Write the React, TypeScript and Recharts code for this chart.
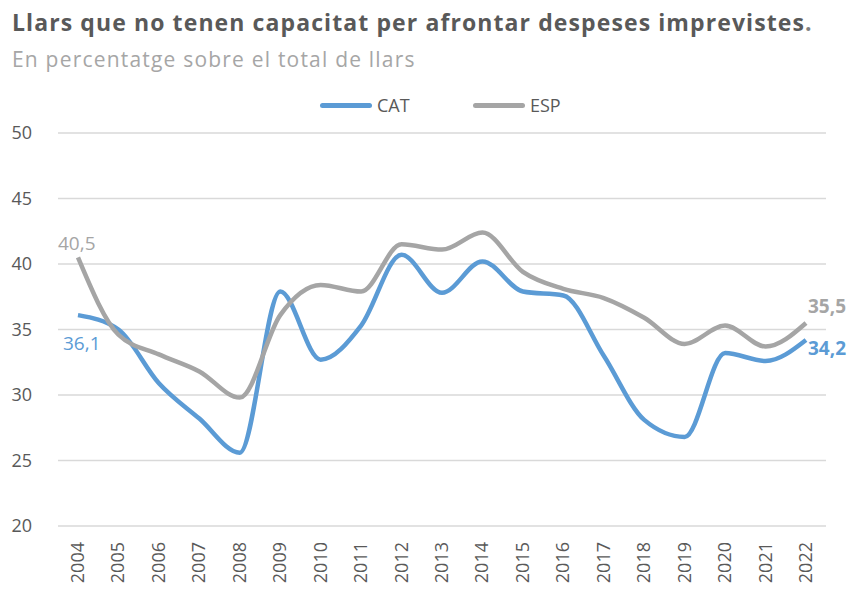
import { LineChart, Line, XAxis, YAxis, CartesianGrid, Legend, LabelList } from 'recharts';

const YEARS = ['2004', '2005', '2006', '2007', '2008', '2009', '2010', '2011', '2012', '2013', '2014', '2015', '2016', '2017', '2018', '2019', '2020', '2021', '2022'];
const CAT = [36.1, 35.0, 30.9, 28.2, 25.6, 37.9, 32.7, 35.3, 40.7, 37.8, 40.2, 37.9, 37.6, 33.0, 28.1, 26.8, 33.2, 32.6, 34.2];
const ESP = [40.5, 34.6, 33.1, 31.8, 29.8, 36.1, 38.4, 37.9, 41.5, 41.1, 42.4, 39.4, 38.1, 37.4, 35.9, 33.9, 35.3, 33.7, 35.5];
const Y_TICKS = [20, 25, 30, 35, 40, 45, 50];

const data = YEARS.map((y, i) => ({ year: y, CAT: CAT[i], ESP: ESP[i] }));

const FONT = '"Open Sans", sans-serif';
const BLUE = '#5b9bd5';
const GREY = '#a5a5a5';
const TXT = '#595959';

const fmt = (v: number) => v.toFixed(1).replace('.', ',');

// only first and last points get a value label
const endLabel = (color: string, firstDx: number, firstDy: number, lastDy: number) => (props: any) => {
  const { x, y, value, index } = props;
  if (index === 0) {
    return (
      <text x={x + firstDx} y={y + firstDy} fill={color} fontSize={19} fontFamily={FONT}>
        {fmt(value)}
      </text>
    );
  }
  if (index === YEARS.length - 1) {
    return (
      <text x={x + 2} y={y + lastDy} fill={color} fontSize={19} fontWeight="bold" fontFamily={FONT}>
        {fmt(value)}
      </text>
    );
  }
  return null;
};

// vertical year labels, reading bottom to top
const YearTick = (props: any) => {
  const { x, y, payload } = props;
  return (
    <text
      transform={`translate(${x - 1},${y + 8}) rotate(-90)`}
      textAnchor="end"
      dominantBaseline="central"
      fill={TXT}
      fontSize={18}
      fontFamily={FONT}
    >
      {payload.value}
    </text>
  );
};

const renderLegend = () => (
  <div style={{ position: 'relative', height: 33, fontFamily: FONT, fontSize: 18, color: TXT }}>
    {[
      { name: 'CAT', color: BLUE, left: 320 },
      { name: 'ESP', color: GREY, left: 473 },
    ].map((s) => (
      <div key={s.name} style={{ position: 'absolute', left: s.left, top: 0, display: 'flex', alignItems: 'center' }}>
        <div style={{ width: 52, height: 5, borderRadius: 3, background: s.color, marginRight: 5 }} />
        <span>{s.name}</span>
      </div>
    ))}
  </div>
);

export default function App() {
  return (
    <div style={{ position: 'absolute', left: 0, top: 0, width: 864, height: 593, background: '#fff', fontFamily: FONT }}>
      <div style={{ position: 'absolute', left: 12, top: 6, fontSize: 23, letterSpacing: 1.1, fontWeight: 'bold', color: TXT, whiteSpace: 'nowrap' }}>
        Llars que no tenen capacitat per afrontar despeses imprevistes<span style={{ color: '#7f7f7f' }}>.</span>
      </div>
      <div style={{ position: 'absolute', left: 12, top: 45, fontSize: 21, letterSpacing: 1.2, color: '#a6a6a6', whiteSpace: 'nowrap' }}>
        En percentatge sobre el total de llars
      </div>
      <div style={{ position: 'absolute', left: 0, top: 0 }}>
        <LineChart width={864} height={593} data={data} margin={{ top: 100, right: 38, bottom: 0, left: 0 }}>
          <CartesianGrid vertical={false} stroke="#d9d9d9" strokeWidth={1.3} />
          <XAxis
            dataKey="year"
            axisLine={false}
            tickLine={false}
            interval={0}
            padding={{ left: 20, right: 20 }}
            height={67}
            tick={<YearTick />}
          />
          <YAxis
            domain={[20, 50]}
            ticks={Y_TICKS}
            width={58}
            axisLine={false}
            tickLine={false}
            tickMargin={20}
            tick={{ fill: TXT, fontSize: 18, fontFamily: FONT }}
          />
          <Legend verticalAlign="top" height={33} content={renderLegend} wrapperStyle={{ top: 93, left: 0, width: 864 }} />
          <Line dataKey="CAT" type="monotone" stroke={BLUE} strokeWidth={4.5} dot={false} isAnimationActive={false}>
            <LabelList dataKey="CAT" content={endLabel(BLUE, -15, 35, 15)} />
          </Line>
          <Line dataKey="ESP" type="monotone" stroke={GREY} strokeWidth={4.5} dot={false} isAnimationActive={false}>
            <LabelList dataKey="ESP" content={endLabel(GREY, -20, -7, -10)} />
          </Line>
        </LineChart>
      </div>
    </div>
  );
}
